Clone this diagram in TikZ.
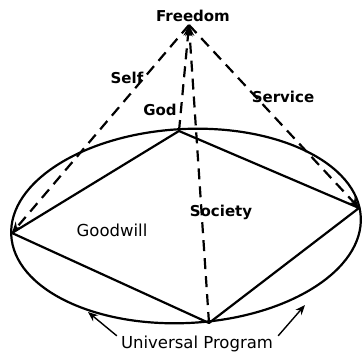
\documentclass[tikz,border=0pt]{standalone}
\usepackage{fontspec}
\setmainfont{DejaVu Sans}
\usetikzlibrary{arrows.meta}
\begin{document}
\begin{tikzpicture}[
    x=1pt, y=-1pt,
    edge/.style={line width=2.2pt, line join=round},
    ray/.style={line width=2.2pt, dash pattern=on 11pt off 7pt},
    tip/.style={-{Stealth[length=11pt, width=9pt]}},
    pointer/.style={line width=1.4pt, -{Stealth[length=10pt, width=8pt]}},
    tag/.style={font=\fontsize{15}{17}\selectfont\bfseries, inner sep=0pt},
    word/.style={font=\fontsize{16.5}{18}\selectfont, inner sep=0pt}
  ]
  \useasboundingbox (0,0) rectangle (362,352);
  \coordinate (F) at (189,25);
  \coordinate (L) at (12,233);
  \coordinate (G) at (179,131);
  \coordinate (R) at (359,208);
  \coordinate (B) at (209,323);
  \coordinate (pl) at (88,312);
  \coordinate (pr) at (305,305);
  \draw[edge, rotate around={3:(186,226)}] (186,226) ellipse [x radius=175, y radius=97];
  \draw[edge] (L) -- (G) -- (R) -- (B) -- cycle;
  \draw[ray, tip] (F) -- (L);
  \draw[ray, tip] (F) -- (R);
  \draw[ray, tip] (G) -- (F);
  \draw[ray, tip] (B) -- (F);
  \node[tag] (freedom) at (193,16) {Freedom};
  \node[tag] (self) at (127,78) {Self};
  \node[tag] (service) at (283,97) {Service};
  \node[tag] (god) at (160,110) {God};
  \node[tag] (society) at (221,212) {Society};
  \node[word] (goodwill) at (112,230) {Goodwill};
  \node[word] (prog) at (197,344) {Universal Program};
  \draw[pointer] ([xshift=-4pt]prog.north west) -- (pl);
  \draw[pointer] ([xshift=5pt]prog.north east) -- (pr);
\end{tikzpicture}
\end{document}
